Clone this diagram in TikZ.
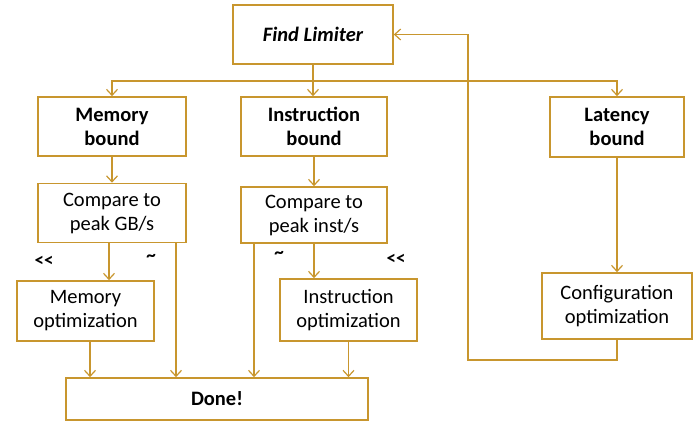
\documentclass[tikz,border=0pt]{standalone}
\usepackage{fontspec}
\setmainfont{Carlito}
\usetikzlibrary{arrows.meta}
\definecolor{gold}{RGB}{200,150,46}
\begin{document}
\begin{tikzpicture}[x=1pt,y=-1pt,
  box/.style={draw=gold, line width=1.6pt, rectangle, fill=white, align=center, inner sep=0pt,
    font=\fontsize{20.5}{24}\selectfont},
  bbox/.style={box, font=\fontsize{20.5}{24}\selectfont\bfseries},
  arr/.style={draw=gold, line width=1.4pt, -{Straight Barb[length=6pt,width=11pt,line width=1.2pt]}},
  ln/.style={draw=gold, line width=1.4pt},
  lbl/.style={font=\fontsize{19}{20}\selectfont\bfseries, inner sep=0pt}]
\useasboundingbox (0,0) rectangle (698,425);
\node[bbox, minimum width=160pt, minimum height=59pt] (find) at (313,34.5) {\itshape Find Limiter};
\node[bbox, minimum width=148pt, minimum height=59pt] (mem) at (112,126.5) {Memory\\bound};
\node[bbox, minimum width=146pt, minimum height=59pt] (ins) at (314,126.5) {Instruction\\bound};
\node[bbox, minimum width=134pt, minimum height=60pt] (lat) at (617,127) {Latency\\bound};
\node[box, minimum width=148pt, minimum height=59pt] (cgb) at (112,213) {Compare to\\peak GB/s};
\node[box, minimum width=146pt, minimum height=56pt] (cin) at (314,215) {Compare to\\peak inst/s};
\node[box, minimum width=137pt, minimum height=60pt] (mopt) at (85.5,311) {Memory\\optimization};
\node[box, minimum width=137pt, minimum height=62pt] (iopt) at (348.5,310) {Instruction\\optimization};
\node[box, minimum width=150pt, minimum height=66pt] (cfg) at (617,306) {Configuration\\optimization};
\node[bbox, minimum width=302pt, minimum height=42pt] (done) at (217,399) {Done!};
\node[lbl] (l1) at (44,261) {{<}{<}};
\node[lbl] (l2) at (151,258) {\char`\~};
\node[lbl] (l3) at (279,255) {\char`\~};
\node[lbl] (l4) at (396,259) {{<}{<}};
\coordinate (split) at (313,81);
\coordinate (loopc) at (468,360);
\draw[ln] (find.south) -- (split);
\draw[arr] (split) -| (mem.north);
\draw[arr] (split) -| (lat.north);
\draw[arr] (split) -- (split |- ins.north);
\draw[arr] (mem.south) -- (cgb.north);
\draw[arr] (ins.south) -- (ins.south |- cin.north);
\draw[arr] (lat.south) -- (cfg.north);
\draw[arr] ([xshift=-3pt]cgb.south) -- ([xshift=-3pt]cgb.south |- mopt.north);
\draw[arr] ([xshift=64pt]cgb.south) -- ([xshift=64pt]cgb.south |- done.north);
\draw[arr] ([xshift=-60pt]cin.south) -- ([xshift=-60pt]cin.south |- done.north);
\draw[arr] (cin.south) -- (cin.south |- iopt.north);
\draw[arr] ([xshift=4.5pt]mopt.south) -- ([xshift=4.5pt]mopt.south |- done.north);
\draw[arr] (iopt.south) -- (iopt.south |- done.north);
\draw[arr] (cfg.south) |- (loopc) |- (find.east);
\end{tikzpicture}
\end{document}
